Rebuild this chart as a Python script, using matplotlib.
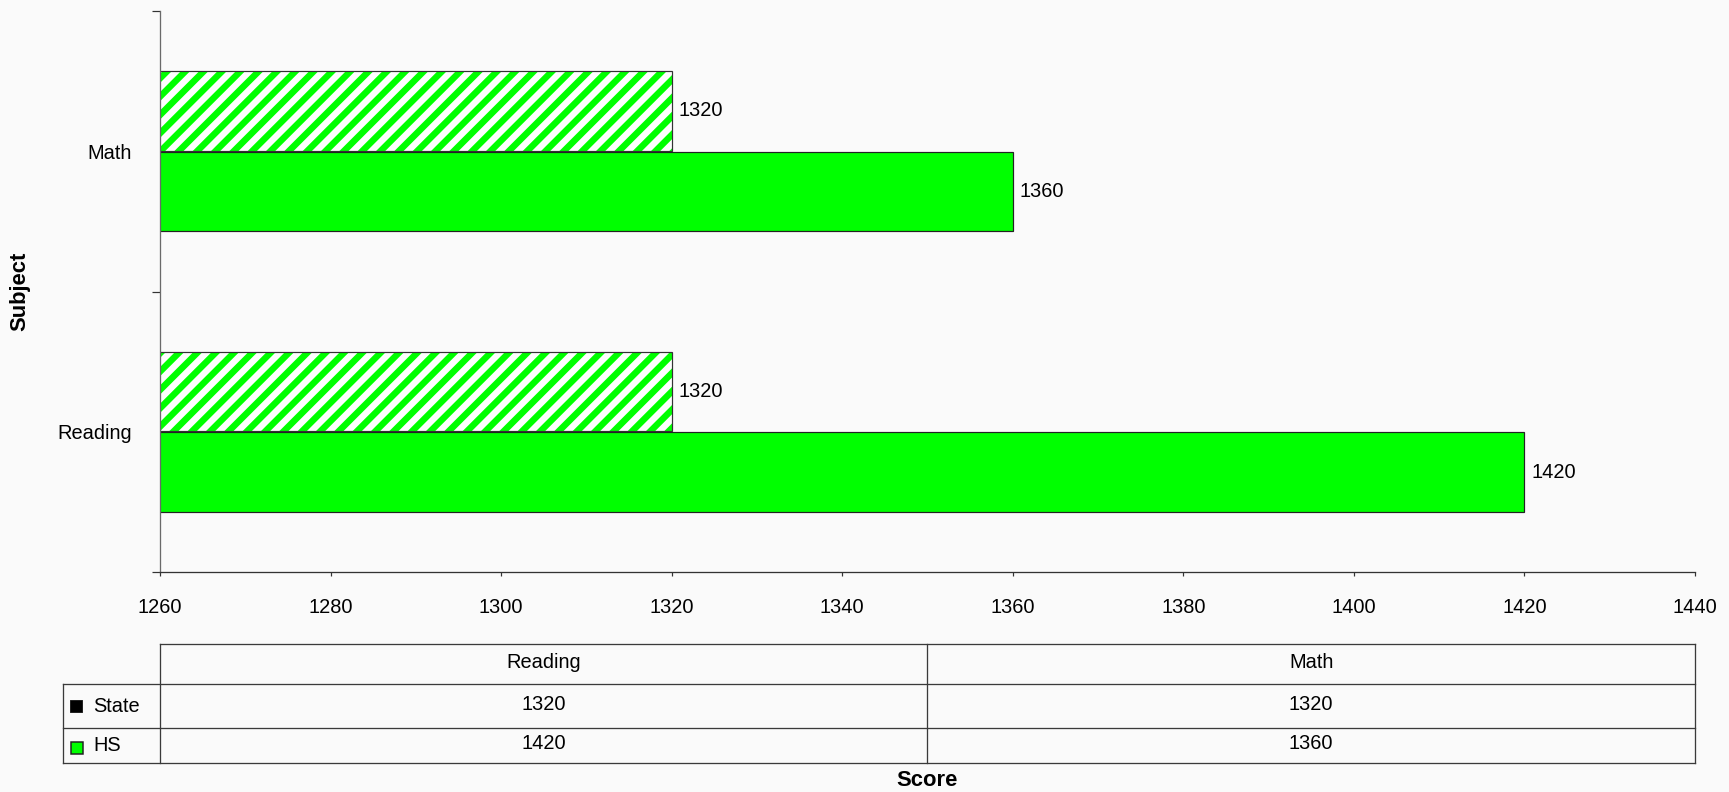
import numpy as np
import matplotlib.pyplot as plt
from matplotlib.patches import Rectangle

# scores by subject
subjects = ['Reading', 'Math']
series = ['State', 'HS']
state_scores = [1320, 1320]
hs_scores = [1420, 1360]
score_ticks = [1260, 1280, 1300, 1320, 1340, 1360, 1380, 1400, 1420, 1440]

W, H = 1729, 792
DPI = 110
bg = '#fafafa'
green = '#00ff00'
dark = '#333333'


def pt(px):
    # pixel size -> points at the figure dpi
    return px * 72 / DPI


plt.rcParams['font.family'] = ['Liberation Sans', 'DejaVu Sans']
plt.rcParams['font.size'] = pt(20)
plt.rcParams['hatch.linewidth'] = pt(6.5)

fig = plt.figure(figsize=(W / DPI, H / DPI), dpi=DPI, facecolor=bg)

# plot area in pixels
left, right, top, bottom = 160, 1695, 11, 572
ax = fig.add_axes([left / W, 1 - bottom / H, (right - left) / W, (bottom - top) / H])
ax.set_facecolor(bg)

y = np.arange(len(subjects))
bh = 0.285
off = 0.1435

hatched = ax.barh(y + off, state_scores, height=bh, color='white', edgecolor=green,
                  hatch='//', linewidth=0)
for p in hatched:
    if hasattr(p, 'set_hatch_linewidth'):
        p.set_hatch_linewidth(pt(6.5))
ax.barh(y + off, state_scores, height=bh, fill=False, edgecolor=dark, linewidth=pt(1.2))
ax.barh(y - off, hs_scores, height=bh, color=green, edgecolor='#222222', linewidth=pt(1.2))

for yy, v in zip(y + off, state_scores):
    ax.annotate(f'{v}', (v, yy), xytext=(pt(7), 0), textcoords='offset points',
                va='center', ha='left')
for yy, v in zip(y - off, hs_scores):
    ax.annotate(f'{v}', (v, yy), xytext=(pt(7), 0), textcoords='offset points',
                va='center', ha='left')

ax.set_xlim(score_ticks[0], score_ticks[-1])
ax.set_xticks(score_ticks)
ax.set_ylim(-0.5, len(subjects) - 0.5)
ax.set_yticks(y, subjects)
ax.set_yticks(np.arange(len(subjects) + 1) - 0.5, minor=True)
ax.tick_params(axis='y', which='major', length=0, pad=pt(28))
ax.tick_params(axis='y', which='minor', length=pt(8), width=pt(1.2), color=dark)
ax.tick_params(axis='x', length=pt(4), width=pt(1.2), pad=pt(22), color=dark)
for s in ['top', 'right']:
    ax.spines[s].set_visible(False)
ax.spines['left'].set_color('#6a6a6a')
ax.spines['left'].set_linewidth(pt(1.3))
ax.spines['bottom'].set_color(dark)
ax.spines['bottom'].set_linewidth(pt(1.3))

# data table under the chart, in pixel coordinates
tab = fig.add_axes([0, 0, 1, 1])
tab.set_xlim(0, W)
tab.set_ylim(H, 0)
tab.axis('off')
tab.patch.set_alpha(0)

mid = (left + right) / 2
col_x = [left, mid, right]
t_top, t_head, t_mid, t_bot = 644, 684, 728, 763
label_left = 63
lc = '#3a3a3a'
lw = pt(1.3)

tab.plot([left, right], [t_top, t_top], color=lc, lw=lw)
for yy in [t_head, t_mid, t_bot]:
    tab.plot([label_left, right], [yy, yy], color=lc, lw=lw)
for xx in col_x:
    tab.plot([xx, xx], [t_top, t_bot], color=lc, lw=lw)
tab.plot([label_left, label_left], [t_head, t_bot], color=lc, lw=lw)

centers = [(col_x[i] + col_x[i + 1]) / 2 for i in range(len(subjects))]
for cx, name in zip(centers, subjects):
    tab.text(cx, (t_top + t_head) / 2 - 2, name, ha='center', va='center')

row_y = [(t_head + t_mid) / 2, (t_mid + t_bot) / 2]
for ry, name, vals in zip(row_y, series, [state_scores, hs_scores]):
    tab.text(93, ry, name, ha='left', va='center')
    for cx, v in zip(centers, vals):
        tab.text(cx, ry - 2, f'{v}', ha='center', va='center')

tab.add_patch(Rectangle((70, row_y[0] - 6), 12, 12, facecolor='black',
                        edgecolor='#222222', lw=pt(1)))
tab.add_patch(Rectangle((71, row_y[1] - 4), 12, 12, facecolor=green,
                        edgecolor='#222222', lw=pt(1.5)))

tab.text(mid, 781, 'Score', ha='center', va='center', fontweight='bold',
         fontsize=pt(22))
tab.text(20, 291, 'Subject', ha='center', va='center', rotation=90,
         fontweight='bold', fontsize=pt(22))

fig.savefig('out.png', dpi=DPI, facecolor=bg)
